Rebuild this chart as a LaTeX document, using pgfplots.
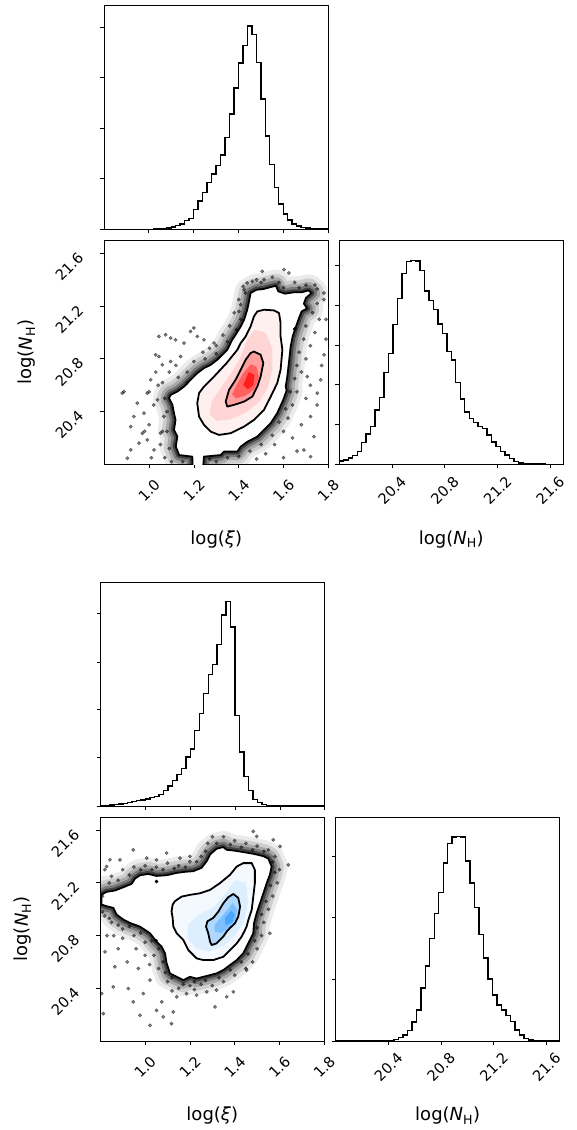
\documentclass[border=0pt]{standalone}
\usepackage{fontspec}
\setmainfont{DejaVu Sans}
\usepackage{graphicx}
\usepackage{pgfplots}
\usepackage{pgfplotstable}
\pgfplotsset{compat=1.18}
\definecolor{mpblue}{RGB}{30,144,255}
\newcommand{\tl}[1]{\rotatebox{45}{\fontsize{14.5}{16}\selectfont #1}}

% ---------- histograms (bin left edge, count) ----------
\pgfplotstableread{
x y
0.80 0
0.82 0
0.84 0
0.86 0
0.88 0
0.90 0
0.92 0
0.94 0
0.96 0
0.98 0
1.00 0
1.02 0.5
1.04 1
1.06 2
1.08 4
1.10 7
1.12 11
1.14 16
1.16 26
1.18 33
1.20 60
1.22 85
1.24 111
1.26 140
1.28 166
1.30 191
1.32 223
1.34 276
1.36 346
1.38 424
1.40 500
1.42 553
1.44 611
1.46 585
1.48 501
1.50 392
1.52 280
1.54 195
1.56 125
1.58 76
1.60 46
1.62 28
1.64 16
1.66 10
1.68 6
1.70 4
1.72 2
1.74 1
1.76 1
1.78 0.5
1.80 0.5
}\histXiA
\pgfplotstableread{
x y
20.000 10
20.034 13
20.068 19
20.102 26
20.136 38
20.170 66
20.204 91
20.238 113
20.272 163
20.306 200
20.340 275
20.374 332
20.408 418
20.442 496
20.476 572
20.510 608
20.544 611
20.578 609
20.612 581
20.646 519
20.680 491
20.714 463
20.748 420
20.782 391
20.816 338
20.850 313
20.884 245
20.918 195
20.952 157
20.986 138
21.020 125
21.054 113
21.088 107
21.122 88
21.156 67
21.190 53
21.224 39
21.258 28
21.292 18
21.326 9
21.360 4
21.394 2
21.428 1
21.462 1
21.496 0.5
21.530 0.5
21.564 0
21.598 0
21.632 0
21.666 0
21.700 0
}\histNHA
\pgfplotstableread{
x y
0.80 1
0.82 2
0.84 3
0.86 4
0.88 6
0.90 8
0.92 10
0.94 13
0.96 16
0.98 18
1.00 21
1.02 25
1.04 29
1.06 34
1.08 46
1.10 60
1.12 76
1.14 94
1.16 112
1.18 146
1.20 171
1.22 226
1.24 277
1.26 336
1.28 393
1.30 424
1.32 483
1.34 571
1.36 611
1.38 535
1.40 271
1.42 161
1.44 88
1.46 46
1.48 20
1.50 10
1.52 4
1.54 2
1.56 1
1.58 0.5
1.60 0
1.62 0
1.64 0
1.66 0
1.68 0
1.70 0
1.72 0
1.74 0
1.76 0
1.78 0
1.80 0
}\histXiB
\pgfplotstableread{
x y
20.000 0
20.034 0
20.068 0
20.102 0
20.136 0
20.170 0
20.204 0
20.238 0
20.272 0
20.306 0
20.340 0
20.374 0.5
20.408 2
20.442 5
20.476 10
20.510 18
20.544 31
20.578 57
20.612 93
20.646 159
20.680 224
20.714 307
20.748 381
20.782 445
20.816 533
20.850 591
20.884 610
20.918 611
20.952 610
20.986 538
21.020 472
21.054 400
21.088 318
21.122 248
21.156 186
21.190 138
21.224 108
21.258 93
21.292 76
21.326 58
21.360 33
21.394 18
21.428 8
21.462 3
21.496 1
21.530 0.5
21.564 0
21.598 0
21.632 0
21.666 0
21.700 0
}\histNHB

% ---------- contours, panel A (red) ----------
\pgfplotstableread{
x y
1.453 21.300
1.480 21.325
1.510 21.330
1.543 21.345
1.566 21.355
1.577 21.312
1.607 21.295
1.644 21.305
1.681 21.305
1.711 21.320
1.726 21.300
1.700 21.262
1.691 21.219
1.706 21.183
1.681 21.160
1.671 21.117
1.656 21.046
1.641 20.970
1.632 20.894
1.624 20.768
1.617 20.666
1.610 20.590
1.614 20.560
1.599 20.489
1.572 20.388
1.543 20.312
1.513 20.261
1.483 20.210
1.438 20.170
1.409 20.134
1.394 20.096
1.334 20.096
1.320 20.070
1.245 20.058
1.240 19.950
1.194 19.950
1.193 20.058
1.134 20.070
1.119 20.134
1.126 20.210
1.111 20.261
1.118 20.337
1.111 20.388
1.104 20.451
1.089 20.502
1.096 20.527
1.126 20.552
1.156 20.590
1.185 20.641
1.215 20.692
1.245 20.730
1.275 20.755
1.304 20.793
1.349 20.869
1.371 20.945
1.386 20.983
1.409 21.046
1.424 21.097
1.438 21.173
1.446 21.236
1.453 21.300
}\outerA
\pgfplotstableread{
x y
1.483 21.160
1.513 21.173
1.557 21.168
1.580 21.148
1.587 21.072
1.587 20.970
1.595 20.869
1.587 20.717
1.572 20.616
1.543 20.514
1.513 20.413
1.468 20.337
1.424 20.286
1.364 20.236
1.312 20.223
1.275 20.248
1.245 20.299
1.223 20.362
1.215 20.464
1.223 20.540
1.245 20.590
1.290 20.666
1.346 20.768
1.394 20.869
1.409 20.920
1.431 20.970
1.453 21.046
1.468 21.122
1.483 21.160
}\middleA
\pgfplotstableread{
x y
1.47 21.02
1.52 21.00
1.55 20.88
1.55 20.72
1.53 20.58
1.49 20.47
1.43 20.39
1.36 20.34
1.30 20.33
1.27 20.38
1.28 20.48
1.32 20.58
1.37 20.70
1.41 20.82
1.44 20.95
1.47 21.02
}\levelA
\pgfplotstableread{
x y
1.468 20.856
1.498 20.831
1.510 20.768
1.498 20.666
1.483 20.590
1.461 20.514
1.424 20.476
1.379 20.451
1.349 20.438
1.342 20.476
1.357 20.565
1.386 20.641
1.409 20.717
1.431 20.793
1.453 20.844
1.468 20.856
}\innerA
\pgfplotstableread{
x y
1.455 20.76
1.480 20.74
1.490 20.66
1.470 20.57
1.430 20.52
1.390 20.50
1.370 20.53
1.390 20.60
1.420 20.69
1.455 20.76
}\coreA
\pgfplotstableread{
x y
1.445 20.70
1.470 20.68
1.465 20.60
1.440 20.57
1.420 20.60
1.445 20.70
}\peakA
\pgfplotstableread{
x y
1.505 21.464
1.602 21.477
1.624 21.452
1.513 21.401
1.438 21.376
1.461 21.388
1.424 21.325
1.409 21.211
1.401 21.160
1.074 20.983
1.044 20.970
1.096 20.958
1.118 20.945
1.200 21.034
1.185 21.008
1.215 20.970
1.156 20.920
1.245 20.945
1.290 20.920
0.880 20.540
0.888 20.552
0.947 20.464
0.932 20.362
0.918 20.286
0.903 20.046
0.918 20.109
0.977 20.388
0.992 20.540
1.007 20.641
1.029 20.831
1.044 20.818
1.059 20.755
1.096 20.780
1.141 20.818
0.970 20.236
0.992 20.185
0.955 20.160
1.022 20.109
1.051 20.236
1.066 20.362
1.037 20.489
1.751 20.540
1.766 20.641
1.706 20.666
1.721 20.362
1.736 20.210
1.691 20.109
1.721 20.058
1.781 20.831
1.00 20.30
1.02 20.45
1.04 20.60
1.03 20.70
1.06 20.25
1.05 20.15
1.07 20.05
1.08 20.40
1.00 20.55
0.98 20.25
1.01 20.05
1.09 20.70
1.12 20.75
1.17 20.70
1.20 20.78
1.24 20.85
1.27 20.88
1.30 20.90
1.33 20.98
1.36 21.05
1.38 21.15
1.40 21.25
1.42 21.35
1.48 21.40
1.55 21.42
1.58 21.38
1.65 21.38
1.70 21.36
1.75 21.33
1.78 21.25
1.76 21.10
1.74 21.00
1.72 20.90
1.70 20.80
1.68 20.70
1.66 20.55
1.64 20.45
1.62 20.35
1.60 20.25
1.56 20.15
1.52 20.08
1.48 20.04
1.70 20.50
1.68 20.30
1.64 20.20
1.60 20.05
1.79 21.10
1.79 20.95
1.78 21.30
1.27 20.04
1.30 20.02
1.35 20.05
1.40 20.06
1.45 20.10
1.15 20.02
1.10 20.02
1.09 20.12
1.08 20.25
1.07 20.50
1.06 20.62
1.13 20.66
1.17 20.62
1.25 20.80
1.30 20.84
1.35 20.93
1.39 21.02
1.41 21.10
1.43 21.30
1.50 21.38
1.60 21.34
1.67 21.34
1.74 21.36
1.75 21.22
1.73 21.15
1.70 21.05
1.69 20.95
1.67 20.85
1.66 20.75
1.65 20.65
1.63 20.55
1.61 20.42
1.58 20.32
1.55 20.22
1.50 20.15
1.77 20.75
1.75 20.45
1.72 20.60
1.66 20.10
}\scatA

% ---------- contours, panel B (blue) ----------
\pgfplotstableread{
x y
0.805 21.111
0.828 21.132
0.865 21.142
0.903 21.167
0.940 21.193
0.955 21.233
0.977 21.258
1.014 21.268
1.051 21.253
1.096 21.258
1.141 21.276
1.178 21.284
1.215 21.289
1.252 21.314
1.275 21.365
1.290 21.416
1.319 21.459
1.349 21.472
1.364 21.451
1.394 21.446
1.438 21.434
1.483 21.421
1.528 21.403
1.550 21.385
1.565 21.324
1.557 21.261
1.543 21.198
1.528 21.121
1.513 21.045
1.498 20.969
1.486 20.893
1.483 20.817
1.468 20.766
1.453 20.716
1.438 20.665
1.409 20.614
1.379 20.576
1.349 20.538
1.319 20.513
1.290 20.500
1.260 20.487
1.230 20.474
1.200 20.487
1.171 20.462
1.141 20.487
1.111 20.513
1.096 20.589
1.089 20.665
1.074 20.716
1.051 20.754
1.022 20.817
0.977 20.868
0.932 20.896
0.903 20.921
0.873 20.959
0.858 21.010
0.828 21.023
0.805 21.035
0.805 21.111
}\outerB
\pgfplotstableread{
x y
1.133 21.061
1.163 21.096
1.200 21.109
1.245 21.121
1.290 21.147
1.334 21.198
1.379 21.261
1.409 21.324
1.438 21.350
1.476 21.350
1.490 21.299
1.490 21.198
1.483 21.096
1.476 20.995
1.461 20.919
1.453 20.868
1.446 20.842
1.431 20.792
1.409 20.741
1.379 20.690
1.349 20.639
1.304 20.614
1.260 20.614
1.230 20.627
1.193 20.690
1.171 20.766
1.141 20.817
1.126 20.868
1.123 20.934
1.118 20.984
1.123 21.035
1.133 21.061
}\middleB
\pgfplotstableread{
x y
1.40 21.22
1.45 21.20
1.46 21.05
1.44 20.90
1.40 20.80
1.35 20.72
1.29 20.68
1.23 20.70
1.19 20.78
1.19 20.88
1.24 20.96
1.31 21.02
1.36 21.12
1.40 21.22
}\levelB
\pgfplotstableread{
x y
1.394 21.116
1.416 21.086
1.424 21.020
1.416 20.944
1.401 20.893
1.379 20.858
1.364 20.830
1.349 20.792
1.319 20.741
1.297 20.728
1.290 20.754
1.282 20.817
1.272 20.868
1.278 20.908
1.304 20.934
1.327 20.982
1.349 21.045
1.371 21.091
1.394 21.116
}\innerB
\pgfplotstableread{
x y
1.390 21.05
1.410 21.00
1.405 20.93
1.380 20.87
1.340 20.82
1.310 20.83
1.310 20.88
1.340 20.94
1.370 21.00
1.390 21.05
}\coreB
\pgfplotstableread{
x y
1.385 20.99
1.400 20.96
1.390 20.90
1.360 20.88
1.355 20.93
1.385 20.99
}\peakB
\pgfplotstableread{
x y
0.821 20.677
0.865 20.563
0.858 20.411
0.925 20.398
0.947 20.297
0.992 20.360
1.022 20.462
0.977 20.195
1.022 20.119
1.051 20.233
1.081 20.183
1.118 20.132
1.126 20.221
1.312 20.259
1.394 20.373
1.453 20.538
1.557 20.817
1.074 20.297
1.141 20.335
1.185 20.360
1.230 20.348
1.275 20.373
1.319 20.386
1.364 20.335
0.813 20.208
0.806 20.360
1.483 21.591
1.498 21.553
1.572 21.527
1.602 21.477
1.639 21.337
0.947 21.451
0.888 21.375
0.843 21.375
0.828 21.324
1.156 21.388
1.200 21.401
1.096 21.426
1.051 21.375
1.007 21.388
0.82 21.30
0.85 21.25
0.90 21.30
0.95 21.32
1.00 21.33
1.05 21.32
1.10 21.35
1.15 21.33
1.20 21.36
1.25 21.40
1.28 21.50
1.30 21.55
1.35 21.55
1.40 21.52
1.45 21.50
1.50 21.48
1.55 21.45
1.58 21.40
1.60 21.30
1.59 21.20
1.57 21.10
1.55 21.00
1.53 20.90
1.52 20.80
1.50 20.70
1.48 20.60
1.45 20.55
1.40 20.50
1.35 20.45
1.30 20.42
1.25 20.43
1.20 20.42
1.15 20.40
1.10 20.45
1.06 20.55
1.04 20.65
1.00 20.75
0.95 20.80
0.90 20.85
0.85 20.90
0.82 20.95
0.81 21.10
0.83 20.80
0.88 20.70
0.92 20.60
0.97 20.55
1.00 20.65
0.86 20.80
0.84 21.20
0.88 21.22
0.93 21.26
0.98 21.30
1.03 21.30
1.08 21.30
1.13 21.31
1.18 21.32
1.23 21.36
1.27 21.44
1.32 21.50
1.38 21.49
1.43 21.47
1.48 21.45
1.53 21.44
1.57 21.36
1.58 21.28
1.56 21.18
1.54 21.06
1.52 20.96
1.50 20.86
1.49 20.76
1.46 20.66
1.43 20.60
1.38 20.54
1.33 20.48
1.27 20.46
1.22 20.45
1.17 20.43
1.12 20.48
1.09 20.52
1.08 20.60
1.06 20.70
1.03 20.76
0.98 20.82
0.93 20.87
0.88 20.88
0.84 20.93
0.81 20.98
0.90 20.78
0.96 20.70
1.02 20.58
1.12 20.38
1.22 20.39
}\scatB

\pgfplotsset{
  cornerbase/.style={
    scale only axis, width=224pt, height=224pt,
    anchor=south west,
    tick align=outside, tick pos=left,
    major tick length=4pt,
    axis line style={line width=0.8pt},
    every tick/.append style={black, line width=0.8pt},
    xticklabel style={anchor=center, yshift=-22pt},
    yticklabel style={anchor=center, xshift=-31pt, yshift=-13pt},
    label style={font=\fontsize{18}{21}\selectfont},
    /pgf/number format/assume math mode=true,
  },
  histstyle/.style={cornerbase, ymin=0, yticklabels={}},
  xiaxis/.style={xmin=0.8, xmax=1.8, xtick={1.0,1.2,1.4,1.6,1.8}},
  nhaxis/.style={xmin=20, xmax=21.7, xtick={20.4,20.8,21.2,21.6}},
  xilabels/.style={xticklabels={\tl{1.0},\tl{1.2},\tl{1.4},\tl{1.6},\tl{1.8}}},
  nhlabels/.style={xticklabels={\tl{20.4},\tl{20.8},\tl{21.2},\tl{21.6}}},
  nhylabels/.style={ytick={20.4,20.8,21.2,21.6}, yticklabels={\tl{20.4},\tl{20.8},\tl{21.2},\tl{21.6}}},
  xlab/.style={xlabel style={at={(axis description cs:0.5,-0.334)}, anchor=center}},
  ylab/.style={ylabel style={at={(axis description cs:-0.345,0.5)}, anchor=center}},
  histline/.style={const plot, black, line width=1.4pt},
  band/.style={draw=black, line join=round, line cap=round},
  contourline/.style={black, line width=1.8pt, line join=round, line cap=round},
  scat/.style={only marks, mark=*, mark size=1.7pt, mark options={draw=none, fill=black}, opacity=0.5},
}

\begin{document}
\begin{tikzpicture}
\path[use as bounding box] (0,0) rectangle (576pt,1130pt);

% ================= TOP CORNER =================
\begin{axis}[histstyle, xiaxis, xticklabels={}, at={(104pt,900.7pt)},
  ymax=673, ytick={0,152,304,456,608}]
\addplot[histline] table {\histXiA};
\end{axis}

\begin{axis}[cornerbase, xiaxis, xilabels, nhylabels, xlab, ylab,
  at={(104.3pt,665.7pt)}, ymin=20, ymax=21.7,
  xlabel={log(\textit{ξ})}, ylabel={log(\textit{N}\textsubscript{H})}]
\addplot[band, line width=32pt, opacity=0.08] table {\outerA};
\addplot[band, line width=24pt, opacity=0.12] table {\outerA};
\addplot[band, line width=17pt, opacity=0.18] table {\outerA};
\addplot[band, line width=11pt, opacity=0.28] table {\outerA};
\addplot[band, line width=6pt, opacity=0.45] table {\outerA};
\addplot[scat] table {\scatA};
\addplot[fill=white, draw=none] table {\outerA};
\addplot[fill=red!6, draw=none] table {\middleA};
\addplot[fill=red!17, draw=none] table {\levelA};
\addplot[fill=red!38, draw=none] table {\innerA};
\addplot[fill=red!62, draw=none] table {\coreA};
\addplot[fill=red!88, draw=none] table {\peakA};
\addplot[contourline] table {\outerA};
\addplot[contourline] table {\middleA};
\addplot[contourline] table {\innerA};
\addplot[only marks, mark=*, mark size=1.8pt, black] coordinates {(1.651,21.026)};
\end{axis}

\begin{axis}[histstyle, nhaxis, nhlabels, xlab, at={(339.3pt,665.7pt)},
  ymax=671, ytick={0,119,238,357,476,595},
  xlabel={log(\textit{N}\textsubscript{H})}]
\addplot[histline] table {\histNHA};
\end{axis}

% ================= BOTTOM CORNER =================
\begin{axis}[histstyle, xiaxis, xticklabels={}, at={(100.7pt,324pt)},
  ymax=670, ytick={0,144,288,431,575}]
\addplot[histline] table {\histXiB};
\end{axis}

\begin{axis}[cornerbase, xiaxis, xilabels, nhylabels, xlab, ylab,
  at={(100.3pt,89pt)}, ymin=20, ymax=21.7,
  xlabel={log(\textit{ξ})}, ylabel={log(\textit{N}\textsubscript{H})}]
\addplot[band, line width=32pt, opacity=0.08] table {\outerB};
\addplot[band, line width=24pt, opacity=0.12] table {\outerB};
\addplot[band, line width=17pt, opacity=0.18] table {\outerB};
\addplot[band, line width=11pt, opacity=0.28] table {\outerB};
\addplot[band, line width=6pt, opacity=0.45] table {\outerB};
\addplot[scat] table {\scatB};
\addplot[fill=white, draw=none] table {\outerB};
\addplot[fill=mpblue!5, draw=none] table {\middleB};
\addplot[fill=mpblue!15, draw=none] table {\levelB};
\addplot[fill=mpblue!35, draw=none] table {\innerB};
\addplot[fill=mpblue!58, draw=none] table {\coreB};
\addplot[fill=mpblue!80, draw=none] table {\peakB};
\addplot[contourline] table {\outerB};
\addplot[contourline] table {\middleB};
\addplot[contourline] table {\innerB};
\addplot[only marks, mark=*, mark size=1.6pt, black] coordinates {(1.051,21.210) (1.049,20.761)};
\end{axis}

\begin{axis}[histstyle, nhaxis, nhlabels, xlab, at={(335.7pt,89pt)},
  ymax=670, ytick={0,184.5,369,553.5},
  xlabel={log(\textit{N}\textsubscript{H})}]
\addplot[histline] table {\histNHB};
\end{axis}
\end{tikzpicture}
\end{document}
